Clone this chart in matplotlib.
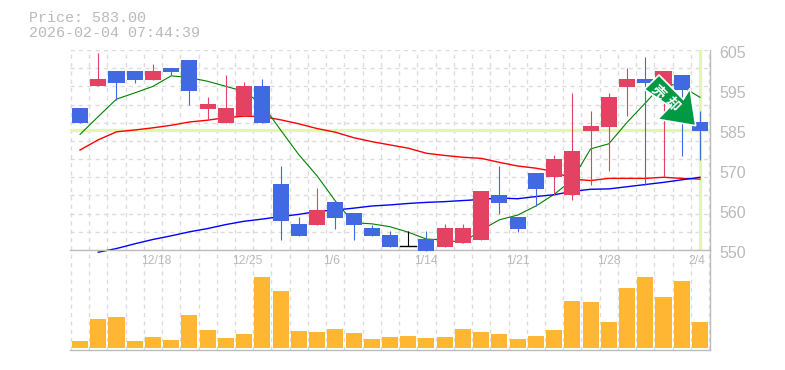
import matplotlib
matplotlib.use("Agg")
import matplotlib.pyplot as plt
from matplotlib.patches import Polygon
from matplotlib.transforms import Affine2D, ScaledTranslation

opens = [589, 595, 599.3, 599.3, 596.8, 600.1, 602.3, 588.8, 585, 586.9, 595.2, 568.2,
         557.2, 556.9, 563.2, 560.2, 556, 554.1, 551, 553, 550.8, 552, 552.8, 565.2,
         559.1, 571.2, 570, 565, 582.8, 583.9, 594.9, 597.1, 595, 598.2, 585.3]
closes = [585, 597.1, 596, 596.8, 599.3, 599, 593.8, 590.2, 589.1, 595.2, 585, 558,
          553.9, 561, 558.8, 556.9, 553.9, 550.8, 551, 549.7, 556, 556, 566.3, 563,
          555.8, 566.8, 575.1, 577.3, 584.2, 592.1, 597.1, 596, 599.3, 594, 582.8]
highs = [589, 604.2, 599.3, 599.3, 601.2, 600.1, 602.3, 592.1, 598.2, 596.3, 597.1, 573.1,
         559.1, 567.1, 563.2, 560.2, 556.9, 555.2, 555.2, 555.2, 557.2, 557.2, 566.3, 573,
         559.1, 571.2, 576.2, 593.3, 588.3, 593.2, 600.1, 603.2, 599.3, 598.2, 588.3]
lows = [585, 595, 591.3, 596, 596.8, 598, 590, 585.8, 585, 586.9, 585, 552.8,
        553.9, 556.9, 555.8, 552.8, 553.9, 550.8, 551, 549.7, 550.8, 552, 552.8, 559.9,
        555, 562, 565.2, 563.8, 567.9, 571.8, 586.9, 567.9, 570, 575.9, 574.8]

ma_short = [581.8, 586.7, 591.5, 593.2, 595, 597.9, 597.4, 596.4, 595, 593.6, 590, 583,
            576.2, 570.4, 563.5, 557.5, 557.2, 556.4, 554.9, 553, 552.8, 552, 555.5, 558.3,
            559.6, 562.1, 565.3, 569.3, 577.8, 579.2, 585.1, 590.4, 595.9, 595, 592]
ma_mid = [577.5, 580.3, 582.5, 583, 583.6, 584.3, 585.2, 585.7, 586.4, 586.8, 586.7, 585.8,
          584.7, 583.4, 582.4, 580.9, 579.8, 578.9, 578, 576.6, 576, 575.5, 575.2, 574.1,
          573.1, 572.5, 571.6, 569.5, 569.1, 569.7, 569.7, 569.7, 570, 569.7, 569.5]
ma_long = [None, 549.4, 550.4, 551.7, 552.9, 553.9, 555, 555.9, 557, 557.9, 558.5, 559.2,
           559.8, 560.6, 561, 561.5, 562.1, 562.4, 562.8, 563.1, 563.3, 563.6, 563.9, 564.3,
           564.1, 564.7, 565.2, 566.1, 566.7, 566.8, 567.4, 568, 568.6, 569.3, 570]

volumes = [22, 88, 94, 22, 34, 25, 100, 55, 31, 43, 214, 172, 52, 49, 58, 46, 28, 34,
           37, 31, 34, 58, 49, 43, 28, 37, 55, 142, 139, 79, 181, 214, 154, 202, 79]

date_idx = [4, 9, 14, 19, 24, 29, 34]
date_labels = ["12/18", "12/25", "1/6", "1/14", "1/21", "1/28", "2/4"]

price_ticks = [605, 594, 583, 572, 561, 550]
price_labels = ["605", "595", "585", "570", "560", "550"]
last_price = 583

W, H = 785, 370
BLUE = "#4169e1"
RED = "#e34262"
GRID = "#dcdcdc"
FRAME = "#bcbcbc"
TEXT = "#bababa"
HILITE = "#e4f5b0"
MONO = "Liberation Mono"


def px_axes(fig, left, top, right, bottom):
    return fig.add_axes([left / W, 1 - bottom / H, (right - left) / W, (bottom - top) / H])


def style_axes(ax):
    ax.set_xlim(-0.55, 34.55)
    ax.set_xticks([k - 0.5 for k in range(36)])
    ax.tick_params(length=0, labelbottom=False, labelleft=False)
    ax.grid(True, color=GRID, ls=(0, (3, 3)), lw=1)
    ax.set_axisbelow(True)
    for side in ["top", "left"]:
        ax.spines[side].set_visible(False)
    for side in ["right", "bottom"]:
        ax.spines[side].set_color(FRAME)
        ax.spines[side].set_linewidth(1)


fig = plt.figure(figsize=(W / 100, H / 100), dpi=100)

# le volume d'abord : le prix déborde un peu sous son axe
vol = px_axes(fig, 70, 250, 710, 350)
style_axes(vol)
vol.set_ylim(-5, 295)
vol.set_yticks([])

ax = px_axes(fig, 70, 50, 710, 250)
style_axes(ax)
ax.set_ylim(550, 605)
ax.set_yticks(range(550, 606, 5))

xs = list(range(len(opens)))

# lignes du dernier cours
ax.axhline(last_price, color=HILITE, lw=2.4, zorder=1.5)
ax.plot([xs[-1], xs[-1]], [550.5, 605], color=HILITE, lw=2.4, zorder=1.5)

ax.plot(xs, ma_long, color="#0000ff", lw=1, zorder=2.5, clip_on=False)
ax.plot(xs, ma_mid, color="#ff0000", lw=1, zorder=2)
ax.plot(xs, ma_short, color="#008000", lw=0.8, zorder=2)

for x, o, c, h, l in zip(xs, opens, closes, highs, lows):
    col = "black" if o == c else (RED if c > o else BLUE)
    ax.plot([x, x], [l, h], color=col, lw=0.8, zorder=3, solid_capstyle="butt", clip_on=False)
    if o == c:
        ax.plot([x - 0.44, x + 0.44], [o, o], color=col, lw=1, zorder=3)
    else:
        ax.bar(x, abs(c - o), bottom=min(o, c), width=0.88, color=col, lw=0, zorder=3, clip_on=False)

# étiquettes de prix, décalées vers le bas
shift = ax.get_yaxis_transform() + ScaledTranslation(0, -3.6 / 100, fig.dpi_scale_trans)
for v, lab in zip(price_ticks, price_labels):
    ax.text(1.015, v, lab, transform=shift, ha="left", va="center", color=TEXT,
            fontsize=11.5, family="Liberation Sans")

vol.bar(xs, volumes, width=0.88, color="#ffb733", lw=0, zorder=3)
for i, lab in zip(date_idx, date_labels):
    vol.text(i - 0.65, 0.885, lab, transform=vol.get_xaxis_transform(), ha="left", va="center",
             color=TEXT, fontsize=8.8, family="Liberation Sans")

fig.text(29 / W, 1 - 18 / H, "Price: 583.00", color=TEXT, fontsize=10.8, family=MONO, va="center")
fig.text(29 / W, 1 - 33 / H, "2026-02-04 07:44:39", color=TEXT, fontsize=10.8, family=MONO, va="center")

# flèche verte, en pixels de l'image
to_fig = Affine2D().scale(1 / W, -1 / H).translate(0, 1) + fig.transFigure
arrow_px = [(644.3, 89.3), (659, 75), (683.3, 99.3), (690, 88.3), (695.7, 125.7), (657.7, 119.3), (670, 106.7)]
fig.add_artist(Polygon(arrow_px, closed=True, facecolor="#009944", edgecolor="white", lw=1.2,
                       transform=to_fig, zorder=10))
fig.text(658 / W, 1 - 92 / H, "売", color="white", fontsize=10, rotation=-45, ha="center", va="center",
         family="Noto Sans CJK JP", weight="bold", zorder=11)
fig.text(672 / W, 1 - 104 / H, "却", color="white", fontsize=10, rotation=-45, ha="center", va="center",
         family="Noto Sans CJK JP", weight="bold", zorder=11)

fig.savefig("out.png", dpi=100)
